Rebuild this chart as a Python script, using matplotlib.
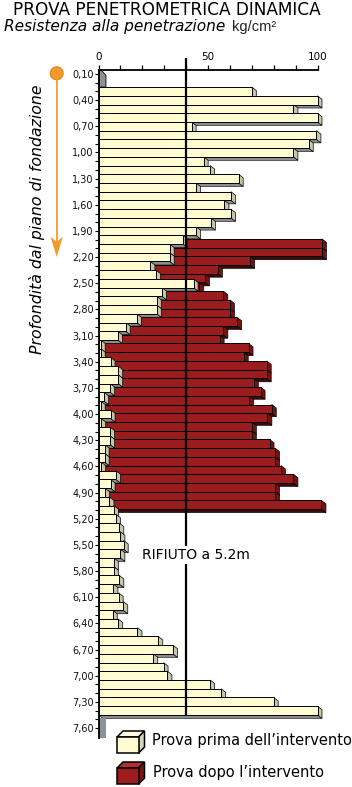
import matplotlib
matplotlib.use('Agg')
import matplotlib.pyplot as plt
from matplotlib.patches import Polygon, Circle

# Profondita' delle letture (m) e resistenza alla penetrazione (kg/cm2)
depth_prima = [0.30, 0.40, 0.50, 0.60, 0.70, 0.80, 0.90, 1.00, 1.10, 1.20,
               1.30, 1.40, 1.50, 1.60, 1.70, 1.80, 1.90, 2.00, 2.10, 2.20,
               2.30, 2.40, 2.50, 2.60, 2.70, 2.80, 2.90, 3.00, 3.10, 3.20,
               3.30, 3.40, 3.50, 3.60, 3.70, 3.80, 3.90, 4.00, 4.10, 4.20,
               4.30, 4.40, 4.50, 4.60, 4.70, 4.80, 4.90, 5.00, 5.10, 5.20,
               5.30, 5.40, 5.50, 5.60, 5.70, 5.80, 5.90, 6.00, 6.10, 6.20,
               6.30, 6.40, 6.50, 6.60, 6.70, 6.80, 6.90, 7.00, 7.10, 7.20,
               7.30, 7.40]
res_prima = [70, 100, 89, 100, 42.5, 99.5, 96, 89, 48, 51,
             64, 44.5, 60.5, 57.5, 60.5, 51.3, 44.5, 38.5, 32.5, 32.5,
             23.7, 26.3, 43.4, 29, 26.6, 26.6, 17.5, 12.4, 8.8, 1,
             1, 5.5, 9, 9, 5.3, 2.5, 1, 5.5, 1.2, 5.3,
             5.3, 2.8, 2.8, 1.2, 8, 5.5, 3, 5, 7, 8,
             9.5, 10, 11.5, 10, 7, 7, 9.5, 6.8, 9.2, 11.3,
             6.5, 9, 17.8, 27.3, 34, 25, 29.7, 31.5, 51, 56,
             80, 100]

depth_dopo = [2.00, 2.10, 2.20, 2.30, 2.40, 2.50, 2.60, 2.70, 2.80, 2.90,
              3.00, 3.10, 3.20, 3.30, 3.40, 3.50, 3.60, 3.70, 3.80, 3.90,
              4.00, 4.10, 4.20, 4.30, 4.40, 4.50, 4.60, 4.70, 4.80, 4.90,
              5.00]
res_dopo = [102, 102, 69.2, 54.5, 48.6, 46, 57, 60, 60, 63.3,
            57, 55.3, 68.5, 66.3, 76.8, 76.8, 70.9, 74, 68.8, 79.1,
            77.1, 70, 70, 78.1, 80.6, 80.6, 83.3, 89, 80.6, 80.6,
            101.8]

tick_depths = [0.10, 0.40, 0.70, 1.00, 1.30, 1.60, 1.90, 2.20, 2.50, 2.80,
               3.10, 3.40, 3.70, 4.00, 4.30, 4.60, 4.90, 5.20, 5.50, 5.80,
               6.10, 6.40, 6.70, 7.00, 7.30, 7.60]
tick_labels = [f'{d:.2f}'.replace('.', ',') for d in tick_depths]
x_labels = ['0', '50', '100']
limite = 40
rifiuto = 'RIFIUTO a 5.2m'

# colori
CREAM, CREAM_SIDE, CREAM_BOTTOM = '#fefcd0', '#c4c6ae', '#8c8c8c'
RED, RED_SIDE, RED_BOTTOM = '#9b1c1c', '#741313', '#3d0a0a'
ORANGE = '#f39a2c'
WALL = '#8d9298'

# geometria in pixel
W, H = 352, 787
X0_PX, PX_PER_UNIT = 98.5, 2.19
D_REF, D_REF_PX, PX_PER_M = 0.10, 74.0, 87.2
XMAX = 110
YTOP, YBOT = 0.055, 7.85
DX = 4.5 / PX_PER_UNIT       # profondita' 3D in orizzontale
DY = 3.5 / PX_PER_M          # profondita' 3D in verticale
BAR_H = 0.1


def depth_px(d):
    return D_REF_PX + (d - D_REF) * PX_PER_M


def bars_3d(ax, depths, values, front, side, bottom, z):
    """Barre orizzontali con faccia laterale e inferiore (effetto 3D)."""
    for d, v in zip(depths, values):
        top, bot = d - BAR_H / 2, d + BAR_H / 2
        ax.add_patch(Polygon([(0, bot), (v, bot), (v + DX, bot + DY), (DX, bot + DY)],
                             closed=True, fc=bottom, ec='black', lw=0.4, zorder=z))
        ax.add_patch(Polygon([(v, top), (v + DX, top + DY), (v + DX, bot + DY), (v, bot)],
                             closed=True, fc=side, ec='black', lw=0.5, zorder=z))
    ax.barh(depths, values, height=BAR_H, color=front, edgecolor='black',
            linewidth=0.7, zorder=z + 0.5)


def cube(ov, x, y, size, off, front, top, side):
    ov.add_patch(Polygon([(x, y), (x + off, y - off), (x + size + off, y - off), (x + size, y)],
                         fc=top, ec='black', lw=1.1, zorder=5))
    ov.add_patch(Polygon([(x + size, y), (x + size + off, y - off),
                          (x + size + off, y + size * 0.75 - off), (x + size, y + size * 0.75)],
                         fc=side, ec='black', lw=1.1, zorder=5))
    ov.add_patch(plt.Rectangle((x, y), size, size * 0.75, fc=front, ec='black', lw=1.1, zorder=6))


fig = plt.figure(figsize=(W / 100, H / 100), dpi=100)

# asse sovrapposto in coordinate pixel per titoli, freccia e legenda
ov = fig.add_axes([0, 0, 1, 1])
ov.set_xlim(0, W)
ov.set_ylim(H, 0)
ov.axis('off')

py_top, py_bot = depth_px(YTOP), depth_px(YBOT)
ax = fig.add_axes([X0_PX / W, 1 - py_bot / H, XMAX * PX_PER_UNIT / W, (py_bot - py_top) / H])
ax.set_facecolor('none')
ax.set_xlim(0, XMAX)
ax.set_ylim(YBOT, YTOP)

# prova dopo l'intervento (dietro), prova prima (davanti)
bars_3d(ax, [d + DY for d in depth_dopo], res_dopo, RED, RED_SIDE, RED_BOTTOM, 1)
bars_3d(ax, depth_prima, res_prima, CREAM, CREAM_SIDE, CREAM_BOTTOM, 2)

# pareti grigie in alto e in basso
first_top = depth_prima[0] - BAR_H / 2
last_bot = depth_prima[-1] + BAR_H / 2
ax.add_patch(Polygon([(0, YTOP), (1.2, YTOP), (3.4, YTOP + 0.06), (3.4, first_top), (0, first_top)],
                     fc=WALL, ec='black', lw=0.6, zorder=2, clip_on=False))
ax.add_patch(Polygon([(0.3, last_bot + DY), (3.3, last_bot + DY), (3.3, 7.71), (0.3, 7.71)],
                     fc=WALL, ec='none', zorder=2, clip_on=False))

# linea di riferimento
ax.plot([limite, limite], [-0.083, last_bot + 0.01], color='black', lw=1.6,
        zorder=8, clip_on=False, solid_capstyle='butt')
ax.text(44.4, 5.658, rifiuto, fontsize=10, ha='center', va='baseline', zorder=9,
        bbox=dict(fc='white', ec='none', pad=1.5))

# assi
for s in ['right', 'bottom']:
    ax.spines[s].set_visible(False)
ax.spines['top'].set_bounds(0, 100)
ax.spines['top'].set_linewidth(1.3)
ax.spines['left'].set_bounds(YTOP, 7.71)
ax.spines['left'].set_linewidth(1.3)
ax.spines['left'].set_zorder(7)

ax.xaxis.tick_top()
ax.set_xticks([0, 50, 100])
ax.set_xticklabels(x_labels, fontsize=7.5)
ax.set_xticks(range(0, 101, 10), minor=True)
ax.tick_params(axis='x', which='both', length=3.6, width=0.9, pad=2.5)

ax.set_yticks(tick_depths)
ax.set_yticklabels(tick_labels, fontsize=7, color='#111111')
ax.set_yticks([round(0.1 * i, 2) for i in range(1, 77)], minor=True)
ax.tick_params(axis='y', which='both', length=2.9, width=0.8, pad=0.5)

# titoli
ov.text(13, 15, 'PROVA PENETROMETRICA DINAMICA', fontsize=12.2, va='baseline')
ov.text(4, 30.5, 'Resistenza alla penetrazione', fontsize=11.1, style='italic', va='baseline')
ov.text(232, 30.5, 'kg/cm²', fontsize=10.5, va='baseline', color='#222222',
        family=['Liberation Sans', 'DejaVu Sans'])
ov.text(37, 219, 'Profondità dal piano di fondazione', fontsize=11.3, style='italic',
        rotation=90, ha='center', va='center')

# freccia arancione
ov.add_patch(Circle((56.7, 73.3), 6.5, fc=ORANGE, ec='#e0861c', lw=0.8))
ov.plot([56.7, 56.7], [79, 243], color=ORANGE, lw=1.3)
ov.add_patch(Polygon([(50.5, 236.5), (56.7, 242), (62.9, 236.5), (56.7, 257)], fc=ORANGE, ec='none'))

# legenda
cube(ov, 117, 737, 21.5, 6, CREAM, '#fffbe6', '#d6d6be')
ov.text(152, 745, 'Prova prima dell’intervento', fontsize=10.5, va='baseline')
cube(ov, 117, 768, 21.5, 6, RED, '#b3302c', '#7a1414')
ov.text(153, 776.5, 'Prova dopo l’intervento', fontsize=10.5, va='baseline')

fig.savefig('out.png', dpi=100)
